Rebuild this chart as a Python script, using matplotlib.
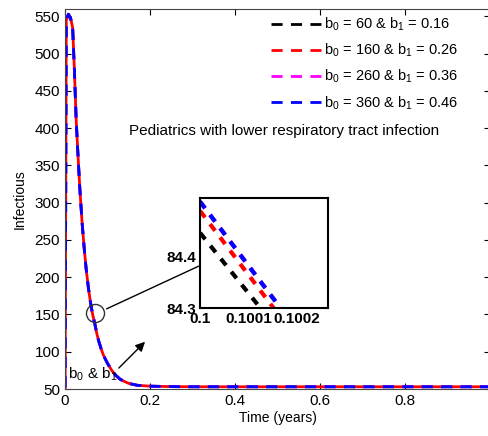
import matplotlib
matplotlib.use('Agg')
import matplotlib.pyplot as plt

plt.rcParams['font.family'] = ['Liberation Sans', 'DejaVu Sans']
plt.rcParams['mathtext.fontset'] = 'custom'
plt.rcParams['mathtext.rm'] = 'Liberation Sans'
plt.rcParams['mathtext.it'] = 'Liberation Sans'
plt.rcParams['mathtext.default'] = 'regular'

# main curve (all four parameter sets overlap at this scale)
t = [0, 0.003, 0.008, 0.013, 0.018, 0.022, 0.026, 0.03, 0.035, 0.04, 0.045,
     0.05, 0.055, 0.06, 0.065, 0.07, 0.075, 0.08, 0.085, 0.09, 0.095, 0.1,
     0.11, 0.12, 0.13, 0.14, 0.15, 0.17, 0.2, 0.25, 0.3, 0.4, 0.6, 0.8, 1.0]
infectious = [0, 545, 553, 548, 535, 480, 415, 370, 318, 275, 240,
              210, 186, 166, 150, 138, 124, 113, 104, 96, 90, 84.4,
              75, 68, 63, 60, 57.5, 55, 53.8, 53.2, 53, 53, 53, 53, 53]

# zoomed view near t = 0.1
zoom_t = [0.1, 0.10025]
zoom_black = [84.447, 84.153]
zoom_red = [84.490, 84.178]
zoom_magenta = [84.508, 84.196]
zoom_blue = [84.508, 84.196]

labels = [r'b$_0$ = 60 & b$_1$ = 0.16', r'b$_0$ = 160 & b$_1$ = 0.26',
          r'b$_0$ = 260 & b$_1$ = 0.36', r'b$_0$ = 360 & b$_1$ = 0.46']
colors = ['black', 'red', 'magenta', 'blue']
dash_offsets = [0, 3.5, 0, 0]   # lets red peek through the blue gaps

fig = plt.figure(figsize=(4.89, 4.36), dpi=100)
ax = fig.add_axes([65/489, 47/436, 425/489, 380/436])

for lab, c, off in zip(labels, colors, dash_offsets):
    line, = ax.plot(t, infectious, color=c, lw=2, label=lab)
    line.set_linestyle((off, (4, 3)))

ax.set_xlim(0, 1)
ax.set_ylim(50, 560)
ax.set_xticks([0, 0.2, 0.4, 0.6, 0.8])
ax.set_xticklabels(['0', '0.2', '0.4', '0.6', '0.8'])
ax.set_yticks(range(50, 551, 50))
ax.tick_params(direction='in', top=True, right=True, labelsize=11, length=4)
for s in ax.spines.values():
    s.set_color('#444444')
ax.set_xlabel('Time (years)', fontsize=10, labelpad=2)
ax.set_ylabel('Infectious', fontsize=10, labelpad=6)

leg = ax.legend(loc='upper right', bbox_to_anchor=(0.955, 1.017), frameon=False,
                fontsize=10.5, handlelength=3.4, handletextpad=0.2,
                labelspacing=0.6)
for h in leg.legend_handles:
    h.set_linestyle((0, (4, 3)))

ax.text(0.515, 0.68, 'Pediatrics with lower respiratory tract infection',
        transform=ax.transAxes, ha='center', va='center', fontsize=11)
ax.text(0.008, 0.015, r'b$_0$ & b$_1$', transform=ax.transAxes,
        ha='left', va='bottom', fontsize=11)

# circle, connector and arrow
ax.plot([0.071], [152], marker='o', ms=13, mfc='none', mec='#333333', mew=1)
ax.annotate('', xy=(0.411, 0.392), xycoords='figure fraction',
            xytext=(0.092, 156), textcoords='data',
            arrowprops=dict(arrowstyle='-', color='black', lw=1))
ax.annotate('', xy=(0.193, 116), xytext=(0.122, 75.5),
            arrowprops=dict(arrowstyle='-|>', color='black', lw=1,
                            mutation_scale=14))

# inset
ins = fig.add_axes([200/489, 128/436, 128/489, 110/436])
ins.plot(zoom_t, zoom_black, color='black', lw=3, dashes=(2, 2))
ins.plot(zoom_t, zoom_red, color='red', lw=3, dashes=(2, 2))
ins.plot(zoom_t, zoom_magenta, color='magenta', lw=3, dashes=(2, 2))
ins.plot(zoom_t, zoom_blue, color='blue', lw=3, dashes=(2, 2))
ins.set_xlim(0.1, 0.100265)
ins.set_ylim(84.3, 84.515)
ins.set_xticks([0.1, 0.1001, 0.1002])
ins.set_xticklabels(['0.1', '0.1001', '0.1002'])
ins.set_yticks([84.3, 84.4])
ins.set_yticklabels(['84.3', '84.4'])
ins.tick_params(direction='in', length=0, labelsize=11, pad=3)
for lab in ins.get_xticklabels() + ins.get_yticklabels():
    lab.set_fontweight('bold')
for s in ins.spines.values():
    s.set_linewidth(1.5)

fig.savefig('out.png', dpi=100)
